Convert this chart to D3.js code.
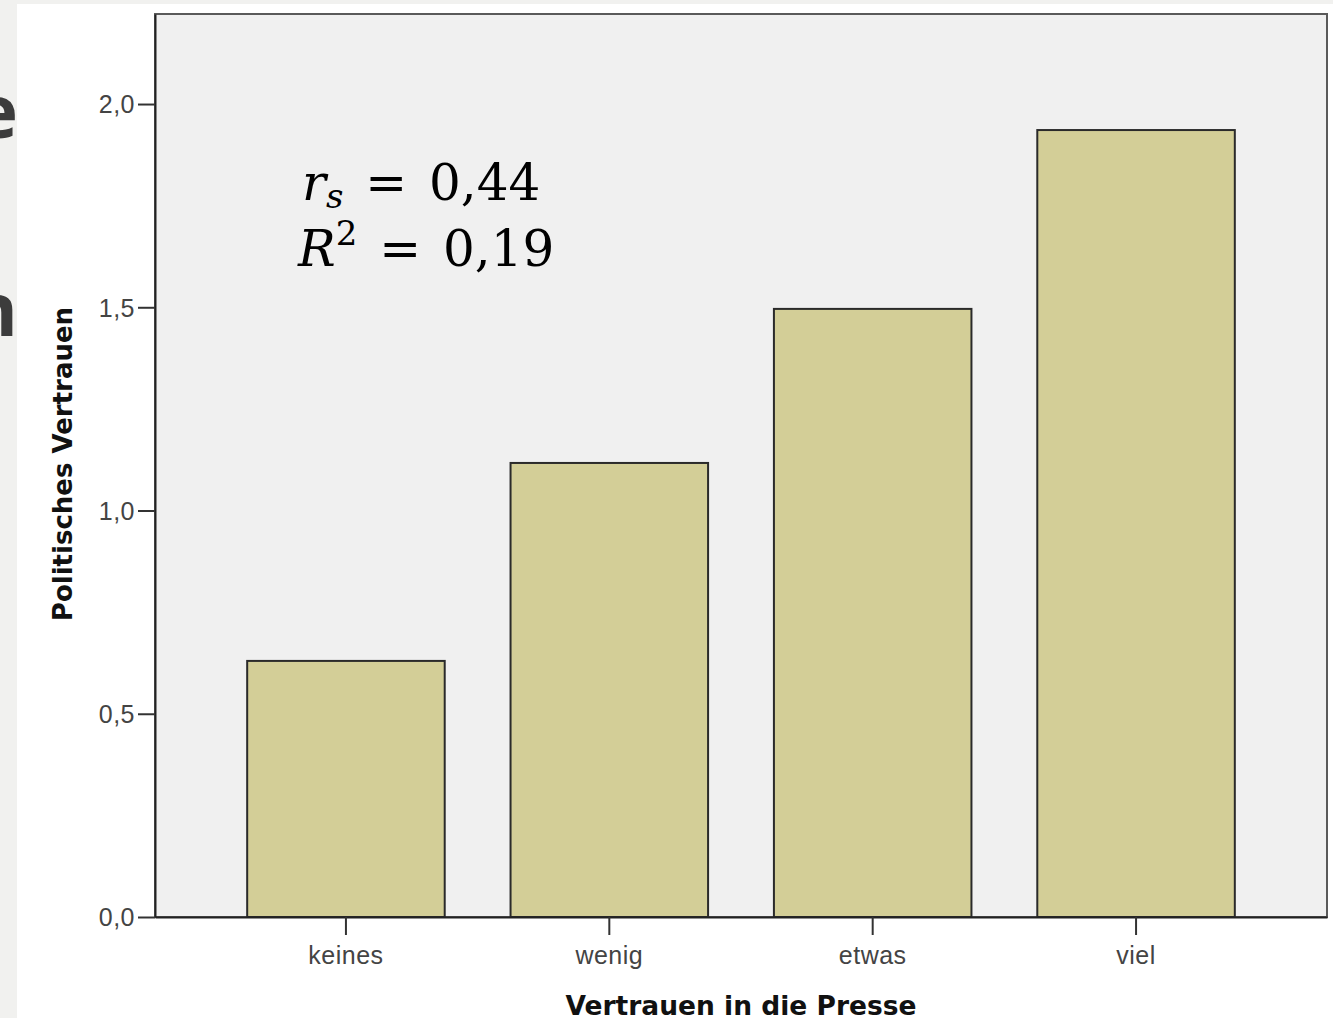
<!DOCTYPE html>
<html>
<head>
<meta charset="utf-8">
<script src="https://cdn.jsdelivr.net/npm/d3@7"></script>
<style>
  body { margin: 0; background: #f1f1ef; }
  svg { display: block; }
</style>
</head>
<body>
<div id="chart"></div>
<script>
var categories = ["keines", "wenig", "etwas", "viel"];
var values = [0.63, 1.117, 1.496, 1.936];
var yTicks = [0, 0.5, 1.0, 1.5, 2.0];

var W = 1333, H = 1018;
var plot = {left: 155, right: 1327, top: 14, bottom: 917};

var svg = d3.select("#chart")
    .append("svg")
    .attr("width", W)
    .attr("height", H);

// slide background text peeking out on the left
svg.append("text").attr("x", 18).attr("y", 138).attr("text-anchor", "end")
    .style("font", "bold 74px 'Open Sans'").attr("fill", "#3c3c3c").text("e");
svg.append("text").attr("x", 18).attr("y", 336).attr("text-anchor", "end")
    .style("font", "bold 74px 'Open Sans'").attr("fill", "#3c3c3c").text("n");

// white chart panel
svg.append("rect")
    .attr("x", 17).attr("y", 4)
    .attr("width", W - 17).attr("height", H - 4)
    .attr("fill", "#ffffff");

var y = d3.scaleLinear()
    .domain([0, 2.2215])
    .range([plot.bottom, plot.top]);

var x = d3.scaleBand()
    .domain(categories)
    .range([plot.left, plot.right])
    .paddingInner(0.25)
    .paddingOuter(0.35);

// plot background + frame
svg.append("rect")
    .attr("x", plot.left).attr("y", plot.top)
    .attr("width", plot.right - plot.left)
    .attr("height", plot.bottom - plot.top)
    .attr("fill", "#f0f0f0")
    .attr("stroke", "#5a5a5a")
    .attr("stroke-width", 2);

// bars
svg.selectAll(".bar")
    .data(categories)
    .join("rect")
    .attr("class", "bar")
    .attr("x", d => x(d))
    .attr("y", (d, i) => y(values[i]))
    .attr("width", x.bandwidth())
    .attr("height", (d, i) => y(0) - y(values[i]))
    .attr("fill", "#d3ce97")
    .attr("stroke", "#2a2a2a")
    .attr("stroke-width", 2);

// y axis
var yAxis = svg.append("g")
    .attr("transform", "translate(" + plot.left + ",0)")
    .call(d3.axisLeft(y)
        .tickValues(yTicks)
        .tickSize(17)
        .tickPadding(3)
        .tickSizeOuter(0)
        .tickFormat(d => d3.format(".1f")(d).replace(".", ",")));
yAxis.select(".domain").attr("stroke", "#222").attr("stroke-width", 2);
yAxis.selectAll(".tick line").attr("stroke", "#333").attr("stroke-width", 2);
yAxis.selectAll(".tick text")
    .attr("dy", "0.35em")
    .style("font", "25px 'Liberation Sans'")
    .style("letter-spacing", "0.5px")
    .attr("fill", "#444");

// x axis
var xAxis = svg.append("g")
    .attr("transform", "translate(0," + plot.bottom + ")")
    .call(d3.axisBottom(x).tickSize(18).tickPadding(11).tickSizeOuter(0));
xAxis.select(".domain").attr("stroke", "#222").attr("stroke-width", 2);
xAxis.selectAll(".tick line").attr("stroke", "#333").attr("stroke-width", 2);
xAxis.selectAll(".tick text")
    .style("font", "25px 'Liberation Sans'")
    .style("letter-spacing", "0.5px")
    .attr("fill", "#444");

// axis titles
svg.append("text")
    .attr("x", 741)
    .attr("y", 1015)
    .attr("text-anchor", "middle")
    .style("font", "bold 26.5px 'DejaVu Sans'")
    .attr("fill", "#111")
    .text("Vertrauen in die Presse");

svg.append("text")
    .attr("transform", "translate(72,464) rotate(-90)")
    .attr("text-anchor", "middle")
    .style("font", "bold 26px 'DejaVu Sans'")
    .attr("fill", "#111")
    .text("Politisches Vertrauen");

// correlation annotation
var ann = svg.append("g").style("font", "50px 'DejaVu Serif'").attr("fill", "#000")
    .style("word-spacing", "6px");
var l1 = ann.append("text").attr("x", 302).attr("y", 200);
l1.append("tspan").style("font-style", "italic").text("r");
l1.append("tspan").style("font-style", "italic").style("font-size", "34px").attr("dy", 8).text("s");
l1.append("tspan").attr("dy", -8).text(" = 0,44");

var l2 = ann.append("text").attr("x", 298).attr("y", 266);
l2.append("tspan").style("font-style", "italic").text("R");
l2.append("tspan").style("font-size", "34px").attr("dy", -21).text("2");
l2.append("tspan").attr("dy", 21).text(" = 0,19");
</script>
</body>
</html>
